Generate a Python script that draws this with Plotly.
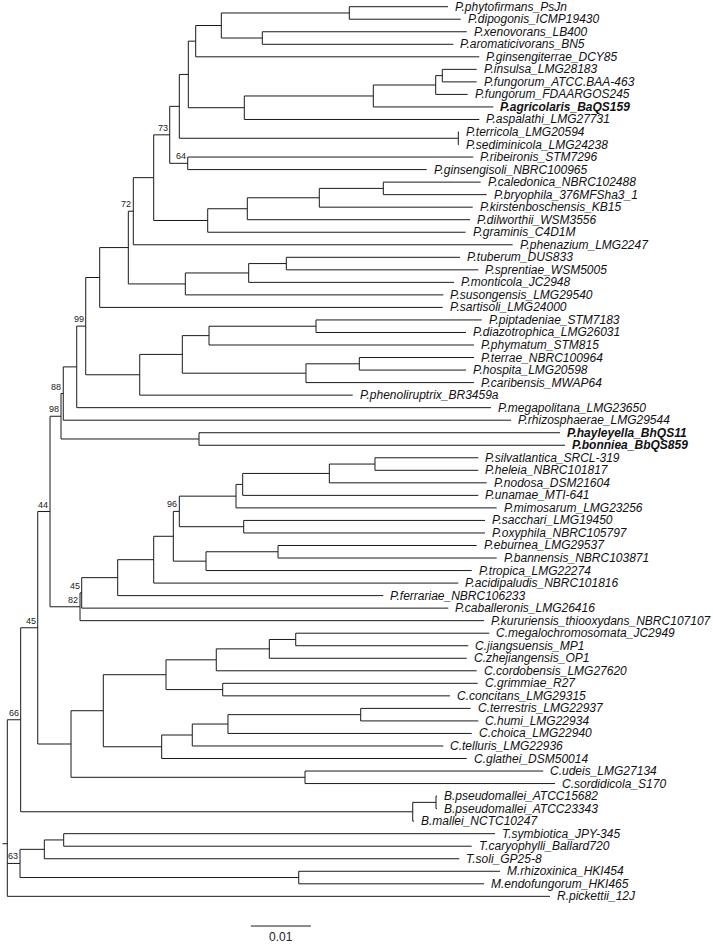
import plotly.graph_objects as go

# ---------------- data ----------------
leaf_names = [
    "P.phytofirmans_PsJn", "P.dipogonis_ICMP19430", "P.xenovorans_LB400", "P.aromaticivorans_BN5",
    "P.ginsengiterrae_DCY85", "P.insulsa_LMG28183", "P.fungorum_ATCC.BAA-463", "P.fungorum_FDAARGOS245",
    "P.agricolaris_BaQS159", "P.aspalathi_LMG27731", "P.terricola_LMG20594", "P.sediminicola_LMG24238",
    "P.ribeironis_STM7296", "P.ginsengisoli_NBRC100965", "P.caledonica_NBRC102488", "P.bryophila_376MFSha3_1",
    "P.kirstenboschensis_KB15", "P.dilworthii_WSM3556", "P.graminis_C4D1M", "P.phenazium_LMG2247",
    "P.tuberum_DUS833", "P.sprentiae_WSM5005", "P.monticola_JC2948", "P.susongensis_LMG29540",
    "P.sartisoli_LMG24000", "P.piptadeniae_STM7183", "P.diazotrophica_LMG26031", "P.phymatum_STM815",
    "P.terrae_NBRC100964", "P.hospita_LMG20598", "P.caribensis_MWAP64", "P.phenoliruptrix_BR3459a",
    "P.megapolitana_LMG23650", "P.rhizosphaerae_LMG29544", "P.hayleyella_BhQS11", "P.bonniea_BbQS859",
    "P.silvatlantica_SRCL-319", "P.heleia_NBRC101817", "P.nodosa_DSM21604", "P.unamae_MTI-641",
    "P.mimosarum_LMG23256", "P.sacchari_LMG19450", "P.oxyphila_NBRC105797", "P.eburnea_LMG29537",
    "P.bannensis_NBRC103871", "P.tropica_LMG22274", "P.acidipaludis_NBRC101816", "P.ferrariae_NBRC106233",
    "P.caballeronis_LMG26416", "P.kururiensis_thiooxydans_NBRC107107", "C.megalochromosomata_JC2949",
    "C.jiangsuensis_MP1", "C.zhejiangensis_OP1", "C.cordobensis_LMG27620", "C.grimmiae_R27",
    "C.concitans_LMG29315", "C.terrestris_LMG22937", "C.humi_LMG22934", "C.choica_LMG22940",
    "C.telluris_LMG22936", "C.glathei_DSM50014", "C.udeis_LMG27134", "C.sordidicola_S170",
    "B.pseudomallei_ATCC15682", "B.pseudomallei_ATCC23343", "B.mallei_NCTC10247", "T.symbiotica_JPY-345",
    "T.caryophylli_Ballard720", "T.soli_GP25-8", "M.rhizoxinica_HKI454", "M.endofungorum_HKI465",
    "R.pickettii_12J",
]

# distance of each tip from the root (substitutions/site)
leaf_depth = [
    0.07345, 0.07557, 0.07657, 0.07433, 0.07867, 0.07823, 0.07823, 0.07673, 0.08100, 0.07867,
    0.07528, 0.07528, 0.07767, 0.06990, 0.07890, 0.07990, 0.07757, 0.07712, 0.07637, 0.08423,
    0.07545, 0.07850, 0.07445, 0.07267, 0.07257, 0.07907, 0.07645, 0.07778, 0.07778, 0.07645,
    0.07778, 0.05757, 0.08062, 0.08395, 0.09212, 0.09295, 0.07850, 0.07850, 0.07990, 0.07850,
    0.08157, 0.07962, 0.07962, 0.07823, 0.08157, 0.07740, 0.07517, 0.06267, 0.07350, 0.07945,
    0.08033, 0.07683, 0.07657, 0.07823, 0.07840, 0.07378, 0.07723, 0.07850, 0.07740, 0.07267,
    0.07657, 0.08933, 0.09128, 0.07162, 0.07162, 0.06778, 0.08128, 0.07740, 0.07533, 0.08212,
    0.07945, 0.09045,
]

bold_leaves = ["P.agricolaris_BaQS159", "P.hayleyella_BhQS11", "P.bonniea_BbQS859"]

# internal clades: id, children (leaf numbers or clade ids), depth from root, bootstrap support
clade_ids = [
    "A", "B", "C", "D", "G", "F", "E", "H", "I", "K", "J", "M", "L", "R", "Q", "P", "O", "N", "S",
    "W", "V", "U", "T", "X", "KK", "II", "LL", "JJ", "HH", "Z", "Y", "AA", "BB", "DD", "CC",
    "XX", "WW", "VV", "TT", "UU", "RR", "YY", "SS", "QQ", "PP", "OO", "MM", "NN", "EE",
    "III", "HHH", "FFF", "GGG", "DDD", "LLL", "KKK", "JJJ", "EEE", "BBB", "CCC", "AAA", "GG",
    "NNN", "MMM", "ZZ", "RRR", "PPP", "QQQ", "OOO", "ROOT",
]
clade_children = [
    [1, 2], [3, 4], ["A", "B"], ["C", 5], [6, 7], ["G", 8], ["F", 9], ["E", 10], ["D", "H"],
    [11, 12], ["I", "K"], [13, 14], ["J", "M"], [15, 16], ["R", 17], ["Q", 18], ["P", 19],
    ["L", "O"], ["N", 20],
    [21, 22], ["W", 23], ["V", 24], ["S", "U"], ["T", 25], [26, 27], ["KK", 28], [29, 30],
    ["LL", 31], ["II", "JJ"], ["HH", 32], ["X", "Z"], ["Y", 33], ["AA", 34], [35, 36], ["BB", "DD"],
    [37, 38], ["XX", 39], ["WW", 40], ["VV", 41], [42, 43], ["TT", "UU"], [44, 45], ["YY", 46],
    ["RR", "SS"], ["QQ", 47], ["PP", 48], ["OO", 49], ["MM", 50], ["CC", "NN"],
    [51, 52], ["III", 53], ["HHH", 54], [55, 56], ["FFF", "GGG"], [57, 58], ["LLL", 59],
    ["KKK", 60], ["JJJ", 61], ["DDD", "EEE"], [62, 63], ["BBB", "CCC"], ["EE", "AAA"],
    [64, 65], ["NNN", 66], ["GG", "MMM"], [67, 68], ["RRR", 69], [70, 71], ["PPP", "QQQ"],
    ["ZZ", "OOO", 72],
]
clade_depth = [
    0.05700, 0.04250, 0.03567, 0.03140, 0.07250, 0.07140, 0.06100, 0.03950, 0.03017, 0.07517,
    0.02867, 0.03007, 0.02707, 0.06267, 0.05200, 0.04000, 0.03340, 0.02440, 0.02100,
    0.04650, 0.04023, 0.02967, 0.02017, 0.01540, 0.05145, 0.03362, 0.05867, 0.04978, 0.02917,
    0.02207, 0.01307, 0.01157, 0.00933, 0.03195, 0.00895,
    0.06128, 0.05367, 0.03923, 0.03812, 0.03940, 0.02867, 0.04512, 0.03312, 0.02767, 0.02440,
    0.01840, 0.01240, 0.01212, 0.00712,
    0.04807, 0.04367, 0.03483, 0.03590, 0.02645, 0.05890, 0.03678, 0.03083, 0.02573, 0.01600,
    0.04962, 0.01062, 0.00507, 0.07145, 0.06757, 0.00223, 0.00940, 0.00617, 0.04857, 0.00212,
    0.00000,
]
clade_support = {
    "M": 64, "L": 73, "S": 72, "Y": 99, "BB": 88, "CC": 98, "RR": 96, "MM": 45, "NN": 82,
    "EE": 44, "GG": 45, "ZZ": 66, "OOO": 63,
}

root_stub_length = 0.0008
root_stub_row = 66.8
scale_bar_start = 0.0406
scale_bar_length = 0.01
scale_bar_row = 73.37
scale_bar_label = "0.01"

# ---------------- layout of the tree ----------------
depth = {}
row = {}
for i, (n, d) in enumerate(zip(leaf_names, leaf_depth)):
    depth[i + 1] = d
    row[i + 1] = i
children = dict(zip(clade_ids, clade_children))
for cid, d in zip(clade_ids, clade_depth):
    depth[cid] = d


def place(node):
    if node in row:
        return row[node]
    ys = [place(c) for c in children[node]]
    row[node] = (ys[0] + ys[-1]) / 2.0
    return row[node]


place("ROOT")

xs, ys = [], []
for cid in clade_ids:
    kids = children[cid]
    x0 = depth[cid]
    xs += [x0, x0, None]
    ys += [row[kids[0]], row[kids[-1]], None]
    for k in kids:
        xs += [x0, depth[k], None]
        ys += [row[k], row[k], None]
# root stub
xs += [-root_stub_length, 0.0, None]
ys += [root_stub_row, root_stub_row, None]

fig = go.Figure()
fig.add_trace(go.Scatter(x=xs, y=ys, mode="lines", line=dict(color="#1a1a1a", width=1),
                         hoverinfo="skip", showlegend=False))

# scale bar
fig.add_trace(go.Scatter(x=[scale_bar_start, scale_bar_start + scale_bar_length],
                         y=[scale_bar_row, scale_bar_row], mode="lines",
                         line=dict(color="#1a1a1a", width=1), hoverinfo="skip", showlegend=False))

FONT = "Liberation Sans, Arial, sans-serif"
annotations = []
for i, n in enumerate(leaf_names):
    txt = "<i>%s</i>" % n
    if n in bold_leaves:
        txt = "<b><i>%s</i></b>" % n
    annotations.append(dict(x=depth[i + 1], y=row[i + 1], xref="x", yref="y", text=txt,
                            showarrow=False, xanchor="left", yanchor="middle", xshift=5,
                            font=dict(family=FONT, size=12, color="#111")))
for cid, s in clade_support.items():
    annotations.append(dict(x=depth[cid], y=row[cid], xref="x", yref="y", text=str(s),
                            showarrow=False, xanchor="right", yanchor="bottom", xshift=0, yshift=0,
                            font=dict(family=FONT, size=9, color="#222")))
annotations.append(dict(x=scale_bar_start + scale_bar_length / 2, y=scale_bar_row, xref="x", yref="y",
                        text=scale_bar_label, showarrow=False, xanchor="center", yanchor="top",
                        yshift=-2, font=dict(family=FONT, size=12, color="#222")))

px_per_unit = 6000.0
x_left = -7.3 / px_per_unit
x_right = (713 - 7.3) / px_per_unit
row_px = 12.53
y_top = -6.7 / row_px
y_bottom = (947 - 6.7) / row_px

fig.update_layout(
    width=713, height=947,
    margin=dict(l=0, r=0, t=0, b=0),
    paper_bgcolor="white", plot_bgcolor="white",
    xaxis=dict(range=[x_left, x_right], visible=False, fixedrange=True),
    yaxis=dict(range=[y_bottom, y_top], visible=False, fixedrange=True),
    annotations=annotations,
    showlegend=False,
)
fig.write_html("out.html", config={"displayModeBar": False, "staticPlot": True},
               post_script="document.body.style.margin='0';document.body.style.overflow='hidden';")
